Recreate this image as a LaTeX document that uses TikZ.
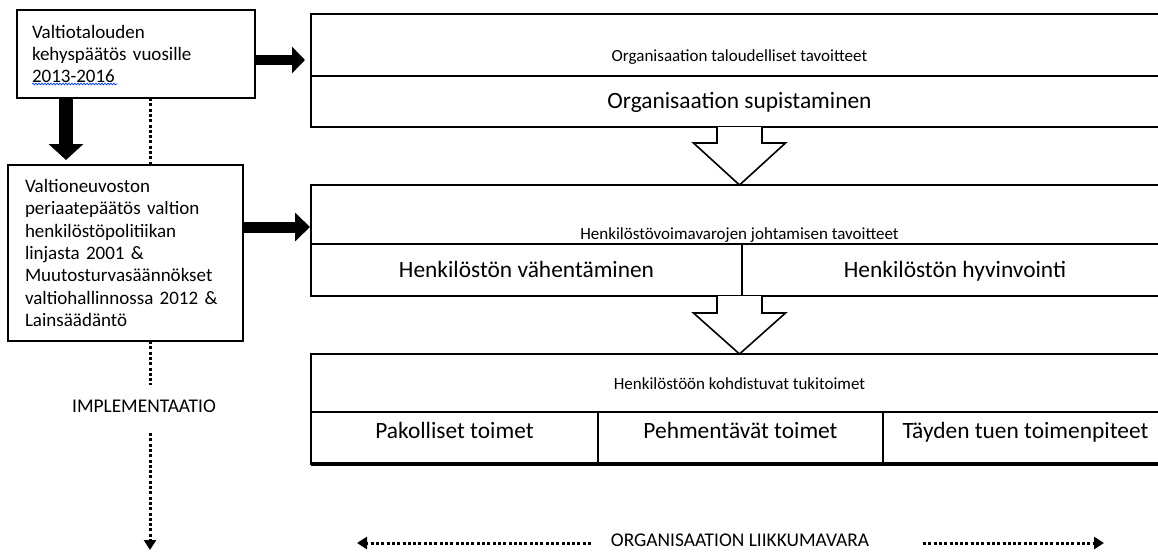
\documentclass[tikz,border=0pt]{standalone}
\usepackage{fontspec}
\setmainfont{Carlito}
\usetikzlibrary{arrows.meta,calc,decorations.pathmorphing}

\begin{document}
\begin{tikzpicture}[x=1pt,y=-1pt,
  cell/.style={draw, line width=1.6pt, rectangle, inner sep=0pt, outer sep=0pt, anchor=north west},
  srcbox/.style={draw, line width=1.2pt, rectangle, anchor=north west, align=left,
    inner ysep=0pt, outer sep=0pt, font=\fontsize{19}{22.3}\selectfont},
  title/.style={anchor=base, inner sep=0pt, font=\fontsize{17}{20}\selectfont},
  big/.style={anchor=base, inner sep=0pt, font=\fontsize{23.4}{28}\selectfont},
  side/.style={inner sep=0pt, font=\fontsize{19.4}{22}\selectfont},
  dotline/.style={line width=3pt, dash pattern=on 3pt off 2.3pt},
  dothead/.style={-{Triangle[width=12pt,length=10pt]}},
  openarrow/.style={draw, line width=1.6pt, fill=white, line join=miter}
]
\useasboundingbox (0,0) rectangle (1158,552);
\clip (0,0) rectangle (1158,552);

% source documents on the left
\node[srcbox, text width=208pt, inner xsep=15pt, minimum height=88pt] (src1) at (17,10)
  {Valtiotalouden\\kehyspäätös vuosille\\2013-2016};
\node[srcbox, text width=201pt, inner xsep=17pt, minimum height=176pt] (src2) at (8,165)
  {Valtioneuvoston\\periaatepäätös valtion\\henkilöstöpolitiikan\\linjasta 2001 \&\\Muutosturvasäännökset\\valtiohallinnossa 2012 \&\\Lainsäädäntö};

% spell-check squiggle under the years
\draw[blue!75!cyan, line width=0.7pt, decorate,
  decoration={snake, amplitude=0.9pt, segment length=3pt}] (32,84) -- (117,84);

% level 1
\node[cell, minimum width=857pt, minimum height=62pt] (b1t) at (311,14) {};
\node[cell, minimum width=857pt, minimum height=51pt] (b1b) at (311,76) {};
\node[title] (t1) at ($(b1t.south)+(0,-15)$) {Organisaation taloudelliset tavoitteet};
\node[big] (t1b) at ($(b1b.south)+(0,-19)$) {Organisaation supistaminen};

% level 2
\node[cell, minimum width=857pt, minimum height=59pt] (b2t) at (311,185) {};
\node[cell, minimum width=431pt, minimum height=52pt] (b2l) at (311,244) {};
\node[cell, minimum width=426pt, minimum height=52pt] (b2r) at (742,244) {};
\node[title] (t2) at ($(b2t.south)+(0,-5)$) {Henkilöstövoimavarojen johtamisen tavoitteet};
\node[big] (t2l) at ($(b2l.south)+(0,-19)$) {Henkilöstön vähentäminen};
\node[big] (t2r) at ($(b2r.south)+(0,-19)$) {Henkilöstön hyvinvointi};

% level 3
\node[cell, minimum width=857pt, minimum height=58pt] (b3t) at (311,354) {};
\node[cell, minimum width=287pt, minimum height=52pt] (b3a) at (311,412) {};
\node[cell, minimum width=285pt, minimum height=52pt] (b3b) at (598,412) {};
\node[cell, minimum width=285pt, minimum height=52pt] (b3c) at (883,412) {};
\draw[line width=3.5pt] (b3a.south west) -- (b3c.south east);
\node[title] (t3) at ($(b3t.south)+(0,-23)$) {Henkilöstöön kohdistuvat tukitoimet};
\node[big] (t3a) at ($(b3a.south)+(0,-26)$) {Pakolliset toimet};
\node[big] (t3b) at ($(b3b.south)+(0,-26)$) {Pehmentävät toimet};
\node[big] (t3c) at ($(b3c.south)+(0,-26)$) {Täyden tuen toimenpiteet};

% open block arrows between levels
\draw[openarrow] ($(b1b.south)+(-22.5,0)$) -- ++(0,16) -- ++(-23.5,0) -- (b2t.north)
  -- ($(b1b.south)+(46,16)$) -- ++(-23.5,0) -- ++(0,-16);
\coordinate (a2) at (b3t.north |- b2l.south);
\draw[openarrow] ($(a2)+(-22.5,0)$) -- ++(0,17) -- ++(-23.5,0) -- (b3t.north)
  -- ($(a2)+(46,17)$) -- ++(-23.5,0) -- ++(0,-17);

% solid arrows from the sources
\draw[line width=10pt, -{Triangle[width=26pt,length=13pt]}]
  ($(src1.east)+(0,6)$) -- ($(b1t.west |- src1.east)+(-6,6)$);
\draw[line width=11pt, -{Triangle[width=28pt,length=15pt]}]
  ($(src2.east)+(0,-26)$) -- ($(b2t.west |- src2.east)+(-1,-26)$);
\draw[line width=14pt, -{Triangle[width=34pt,length=16pt]}]
  ($(src1.south west)+(49,0)$) -- ($(src2.north west)+(58,-5)$);

% implementation axis
\node[side] (impl) at (144,406) {IMPLEMENTAATIO};
\coordinate (i1) at (150,385);
\coordinate (i2) at (150,433);
\coordinate (iend) at (150,550);
\draw[dotline] ($(src1.south west)+(133,0)$) -- ($(src2.north west)+(142,0)$);
\draw[dotline] ($(src2.south west)+(142,0)$) -- (i1);
\draw[dotline, dothead] (i2) -- (iend);

% organisational room for manoeuvre
\node[side] (org) at (740,540) {ORGANISAATION LIIKKUMAVARA};
\coordinate (l1) at (591,543);
\coordinate (lend) at (357,543);
\coordinate (r1) at (923,543);
\coordinate (rend) at (1104,543);
\draw[dotline, dothead] (l1) -- (lend);
\draw[dotline, dothead] (r1) -- (rend);
\end{tikzpicture}
\end{document}
